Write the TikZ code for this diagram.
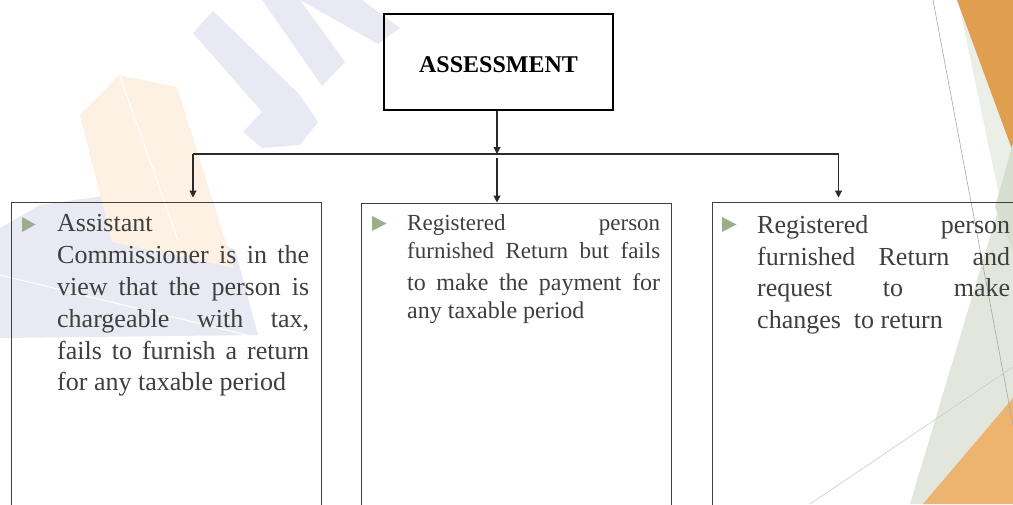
\documentclass[tikz,border=0pt]{standalone}
\usepackage{fontspec}
\setmainfont{Liberation Serif}
\usetikzlibrary{arrows.meta}
\definecolor{txt}{HTML}{3F3F3F}
\definecolor{boxline}{HTML}{404040}
\definecolor{conncol}{HTML}{2A2A2A}
\definecolor{bulletcol}{HTML}{9BAE8C}
\definecolor{wmblue}{HTML}{E8E9F2}
\definecolor{wmorange}{HTML}{FDF1E4}
\definecolor{orgtop}{HTML}{E09F4E}
\definecolor{orgbot}{HTML}{ECB46E}
\definecolor{gpale}{HTML}{ECEFE8}
\definecolor{gbig}{HTML}{E2E6DC}
\definecolor{gmid}{HTML}{D8DECF}
\definecolor{thinA}{HTML}{A8A8A8}
\definecolor{thinB}{HTML}{CCCCCC}
\tikzset{
  caseframe/.style={draw=boxline, line width=1pt, fill=none, anchor=north west, inner sep=0pt},
  headframe/.style={draw=black, line width=2pt, anchor=north west, inner sep=0pt,
     font=\fontsize{24}{28}\selectfont\bfseries, text height=21.4pt, text depth=0pt},
  conn/.style={draw=conncol, line width=1.1pt},
  arr/.style={conn, -{Triangle[width=7pt,length=7pt]}},
  linebig/.style={anchor=base west, inner sep=0pt, text=txt, font=\fontsize{26}{30}\selectfont},
  linemid/.style={anchor=base west, inner sep=0pt, text=txt, font=\fontsize{23}{27}\selectfont},
  linemidb/.style={anchor=base west, inner sep=0pt, text=txt, font=\fontsize{24}{28}\selectfont},
  bulletfill/.style={fill=bulletcol}
}
\newcommand{\jline}[1]{\makebox[253pt][s]{#1}}
\begin{document}
\begin{tikzpicture}[x=1pt,y=-1pt]
\useasboundingbox (0,0) rectangle (1013,504);
\clip (0,0) rectangle (1013,504);
\fill[white] (0,0) rectangle (1013,504);
% ---- faint watermark shapes ----
\fill[wmblue] (0,228) -- (40,205) -- (110,195) -- (235,250) -- (258,335) -- (0,338) -- cycle;
\draw[white, line width=1pt] (0,275) -- (255,337);
\fill[wmorange] (80,115) -- (119,75) -- (177,87) -- (234,268) -- (112,242) -- cycle;
\draw[white, line width=1pt] (120,76) -- (178,240);
\fill[wmblue] (193,33) -- (213,11) -- (300,95) -- (318,122) -- (300,145) -- (262,148) -- (243,132) -- (262,112) -- cycle;
\fill[wmblue] (262,0) -- (300,0) -- (345,62) -- (322,86) -- cycle;
\fill[wmblue] (300,0) -- (362,0) -- (400,28) -- (378,44) -- cycle;
% ---- right decoration ----
\fill[gpale] (958,0) -- (1013,0) -- (1013,262) -- cycle;
\fill[orgtop] (957,0) -- (1013,0) -- (1013,152) -- cycle;
\fill[gbig] (910,504) -- (1013,160) -- (1013,504) -- cycle;
\fill[gmid] (1013,143) -- (995,207) -- (1013,252) -- cycle;
\fill[orgbot] (923,504) -- (1013,398) -- (1013,504) -- cycle;
\draw[thinA, line width=0.6pt] (933,0) -- (1013,425);
\draw[thinB, line width=0.6pt] (810,504) -- (1013,367);
% ---- nodes ----
\node[headframe, minimum width=229pt, minimum height=96pt] (assess) at (383,13) {ASSESSMENT};
\node[caseframe, minimum width=310pt, minimum height=330pt] (b1) at (11,202) {};
\node[caseframe, minimum width=310pt, minimum height=330pt] (b2) at (361,202.5) {};
\node[caseframe, minimum width=330pt, minimum height=330pt] (b3) at (711.5,202) {};
% ---- connectors ----
\coordinate (hm) at (497,154);
\coordinate (hl) at (193,154);
\coordinate (hr) at (838.5,154);
\coordinate (s2) at (497,158);
\coordinate (e1) at (193,197.5);
\coordinate (e3) at (838.5,197.5);
\draw[arr] (assess.south -| hm) -- (hm);
\draw[conn] (hl) -- (hr);
\draw[arr] (hl) -- (e1);
\draw[arr] (s2) -- (b2.north -| s2);
\draw[arr] (hr) -- (e3);
% ---- bullets ----
\fill[bulletfill] (22,217) -- (35.5,224.5) -- (22,232) -- cycle;
\fill[bulletfill] (372,216) -- (386.5,223.5) -- (372,231) -- cycle;
\fill[bulletfill] (722,217) -- (736.5,224.5) -- (722,232) -- cycle;
% ---- left box text ----
\node[linebig] (l1) at (57,231.7) {Assistant};
\node[linebig] (l2) at (57,263.3) {\makebox[252pt][s]{Commissioner is in the}};
\node[linebig] (l3) at (57,295.5) {\makebox[252pt][s]{view that the person is}};
\node[linebig] (l4) at (57,327.3) {\makebox[252pt][s]{chargeable with tax,}};
\node[linebig] (l5) at (57,359.2) {\makebox[252pt][s]{fails to furnish a return}};
\node[linebig] (l6) at (57,390.7) {for any taxable period};
% ---- middle box text ----
\node[linemid] (m1) at (407,230) {\jline{Registered person}};
\node[linemid] (m2) at (407,258.3) {\jline{furnished Return but fails}};
\node[linemidb] (m3) at (407,290) {\jline{to make the payment for}};
\node[linemidb] (m4) at (407,318.3) {any taxable period};
% ---- right box text ----
\node[linebig] (r1) at (757,233.3) {\jline{Registered person}};
\node[linebig] (r2) at (757,265) {\jline{furnished Return and}};
\node[linebig] (r3) at (757,296.7) {\jline{request to make}};
\node[linebig] (r4) at (757,328.3) {changes~ to return};
\end{tikzpicture}
\end{document}
